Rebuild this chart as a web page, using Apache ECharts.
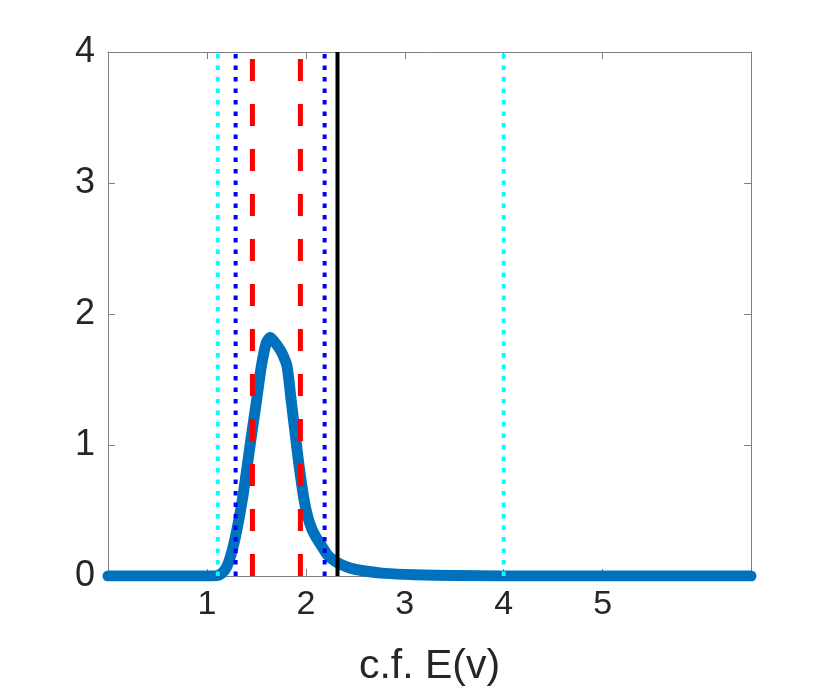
<!DOCTYPE html>
<html>
<head>
<meta charset="utf-8">
<script src="https://cdn.jsdelivr.net/npm/echarts@6/dist/echarts.min.js"></script>
<style>html,body{margin:0;padding:0;background:#fff;}#c{width:830px;height:692px;}</style>
</head>
<body>
<div id="c"></div>
<script>
// Density curve
const curveX = [0, 0.5, 1.0, 1.1, 1.15, 1.2, 1.25, 1.3, 1.36, 1.40, 1.45, 1.50, 1.55, 1.60, 1.64, 1.68, 1.72, 1.76, 1.81, 1.85, 1.89, 1.93, 1.98, 2.02, 2.06, 2.10, 2.15, 2.22, 2.28, 2.35, 2.45, 2.58, 2.8, 3.1, 3.5, 4.0, 5.0, 6.0, 6.5];
const curveY = [0, 0, 0, 0.003, 0.02, 0.07, 0.18, 0.34, 0.59, 0.80, 1.07, 1.33, 1.60, 1.78, 1.82, 1.79, 1.75, 1.70, 1.60, 1.35, 1.10, 0.85, 0.59, 0.45, 0.36, 0.30, 0.24, 0.16, 0.12, 0.09, 0.06, 0.04, 0.02, 0.01, 0.004, 0, 0, 0, 0];
// Reference vertical lines
const cyanLines = [1.11, 4.0];
const blueLines = [1.29, 2.19];
const redLines = [1.46, 1.945];
const blackLines = [2.32];
const xTicks = [1, 2, 3, 4, 5];
const yTicks = [0, 1, 2, 3, 4];
const xRange = [0, 6.5];
const yRange = [0, 4];

const boxColor = '#808080';
const txtColor = '#262626';
const font = 'Liberation Sans, Arial, Helvetica, sans-serif';

function vSeries(xs, color, width, type) {
  return xs.map(x => ({
    type: 'line', data: [[x, yRange[0]], [x, yRange[1]]], symbol: 'none', z: 5,
    lineStyle: { color: color, width: width, type: type, cap: 'butt' },
    silent: true, animation: false
  }));
}

const chart = echarts.init(document.getElementById('c'));
const series = [{
  type: 'line', data: curveX.map((x, i) => [x, curveY[i]]), symbol: 'none', z: 3,
  smooth: 0.25,
  lineStyle: { color: '#0072BD', width: 11, cap: 'round', join: 'round' },
  animation: false
}].concat(
  vSeries(cyanLines, '#00FFFF', 4, [4.5, 7]),
  vSeries(blueLines, '#0000FF', 4, [4.5, 7]),
  vSeries(redLines, '#FF0000', 5, [22, 23]),
  vSeries(blackLines, '#000000', 4, 'solid')
);

chart.setOption({
  backgroundColor: '#fff',
  animation: false,
  grid: { left: 108, right: 79, top: 52, bottom: 114, containLabel: false },
  xAxis: [{
    type: 'value', min: xRange[0], max: xRange[1], position: 'bottom',
    axisLine: { show: true, onZero: false, lineStyle: { color: boxColor, width: 1 } },
    axisTick: { show: true, inside: true, length: 7, customValues: xTicks, lineStyle: { color: boxColor } },
    axisLabel: { customValues: xTicks, color: txtColor, fontSize: 34, fontFamily: font, margin: 12 },
    splitLine: { show: false },
    name: 'c.f. E(v)', nameLocation: 'middle', nameGap: 70,
    nameTextStyle: { color: txtColor, fontSize: 41, fontFamily: font }
  }, {
    type: 'value', min: xRange[0], max: xRange[1], position: 'top',
    axisLine: { show: true, onZero: false, lineStyle: { color: boxColor, width: 1 } },
    axisTick: { show: true, inside: true, length: 7, customValues: xTicks, lineStyle: { color: boxColor } },
    axisLabel: { show: false },
    splitLine: { show: false }
  }],
  yAxis: [{
    type: 'value', min: yRange[0], max: yRange[1], interval: 1, position: 'left',
    axisLine: { show: true, onZero: false, lineStyle: { color: boxColor, width: 1 } },
    axisTick: { show: true, inside: true, length: 7, lineStyle: { color: boxColor } },
    axisLabel: { color: txtColor, fontSize: 36, fontFamily: font, margin: 13 },
    splitLine: { show: false }
  }, {
    type: 'value', min: yRange[0], max: yRange[1], interval: 1, position: 'right',
    axisLine: { show: true, onZero: false, lineStyle: { color: boxColor, width: 1 } },
    axisTick: { show: true, inside: true, length: 7, lineStyle: { color: boxColor } },
    axisLabel: { show: false },
    splitLine: { show: false }
  }],
  series: series
});
</script>
</body>
</html>
